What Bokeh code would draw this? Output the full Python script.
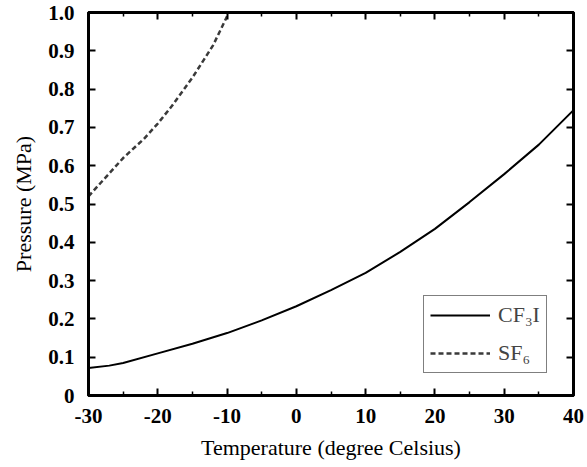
from bokeh.plotting import figure
from bokeh.models import LinearAxis, FixedTicker, Legend, LegendItem, Range1d
from bokeh.embed import file_html
from bokeh.resources import INLINE

# Data
cf3i_temp = [-30, -27, -25, -20, -15, -10, -5, 0, 5, 10, 15, 20, 25, 30, 35, 40]
cf3i_pres = [0.072, 0.078, 0.085, 0.11, 0.135, 0.163, 0.196, 0.233, 0.275, 0.32, 0.375, 0.435, 0.505, 0.578, 0.655, 0.745]

sf6_temp = [-30, -28, -25, -22, -20, -18, -15, -12, -10]
sf6_pres = [0.52, 0.56, 0.62, 0.67, 0.71, 0.755, 0.83, 0.915, 0.99]

x_ticks = [-30, -20, -10, 0, 10, 20, 30, 40]
x_labels = ["-30", "-20", "-10", "0", "10", "20", "30", "40"]
x_minor = [-25, -15, -5, 5, 15, 25, 35]
y_ticks = [0, 0.1, 0.2, 0.3, 0.4, 0.5, 0.6, 0.7, 0.8, 0.9, 1.0]
y_labels = ["0", "0.1", "0.2", "0.3", "0.4", "0.5", "0.6", "0.7", "0.8", "0.9", "1.0"]

FONT = "Liberation Serif"

p = figure(width=587, height=467, output_backend="svg", toolbar_location=None,
           x_range=Range1d(-30, 40), y_range=Range1d(0, 1.0),
           min_border_left=88, min_border_right=14, min_border_top=12, min_border_bottom=72)
p.grid.visible = False
p.outline_line_color = "black"
p.outline_line_width = 3
p.background_fill_color = "white"
p.border_fill_color = "white"

l1 = p.line(cf3i_temp, cf3i_pres, line_color="black", line_width=2)
l2 = p.line(sf6_temp, sf6_pres, line_color="#3a3a3a", line_width=2.5, line_dash="5 3")

def style_axis(ax, ticks, minor, labels=True):
    ax.ticker = FixedTicker(ticks=ticks, minor_ticks=minor)
    ax.major_tick_in = 7
    ax.major_tick_out = 0
    ax.minor_tick_in = 4
    ax.minor_tick_out = 0
    ax.major_tick_line_width = 2
    ax.minor_tick_line_width = 1.5
    ax.axis_line_width = 3
    ax.axis_line_color = "black"
    ax.major_label_text_font = FONT
    ax.major_label_text_font_size = "21px"
    ax.major_label_text_font_style = "bold"
    ax.major_label_text_color = "black" if labels else None
    ax.axis_label_text_font = FONT
    ax.axis_label_text_font_size = "22px"
    ax.axis_label_text_font_style = "normal"
    ax.axis_label_text_color = "black"

xa = p.xaxis[0]
style_axis(xa, x_ticks, x_minor)
xa.major_label_overrides = {t: s for t, s in zip(x_ticks, x_labels)}
xa.axis_label = "Temperature (degree Celsius)"
xa.major_label_standoff = 13
xa.axis_label_standoff = 9

ya = p.yaxis[0]
style_axis(ya, y_ticks, [])
ya.major_label_overrides = {t: s for t, s in zip(y_ticks, y_labels)}
ya.axis_label = "Pressure (MPa)"
ya.major_label_standoff = 14
ya.axis_label_standoff = 9

top = LinearAxis()
style_axis(top, x_ticks, x_minor, labels=False)
p.add_layout(top, "above")
right = LinearAxis()
style_axis(right, y_ticks, [], labels=False)
p.add_layout(right, "right")

legend = Legend(items=[LegendItem(label="CF\u2083I", renderers=[l1]),
                       LegendItem(label="SF\u2086", renderers=[l2])],
                location=(335, 22))
legend.label_text_font = FONT
legend.label_text_font_size = "22px"
legend.label_standoff = 8
legend.border_line_color = "black"
legend.border_line_width = 1.2
legend.glyph_width = 60
legend.spacing = 12
legend.padding = 6
legend.margin = 0
legend.background_fill_alpha = 1
p.add_layout(legend)

open("out.html", "w").write(file_html(p, INLINE))
